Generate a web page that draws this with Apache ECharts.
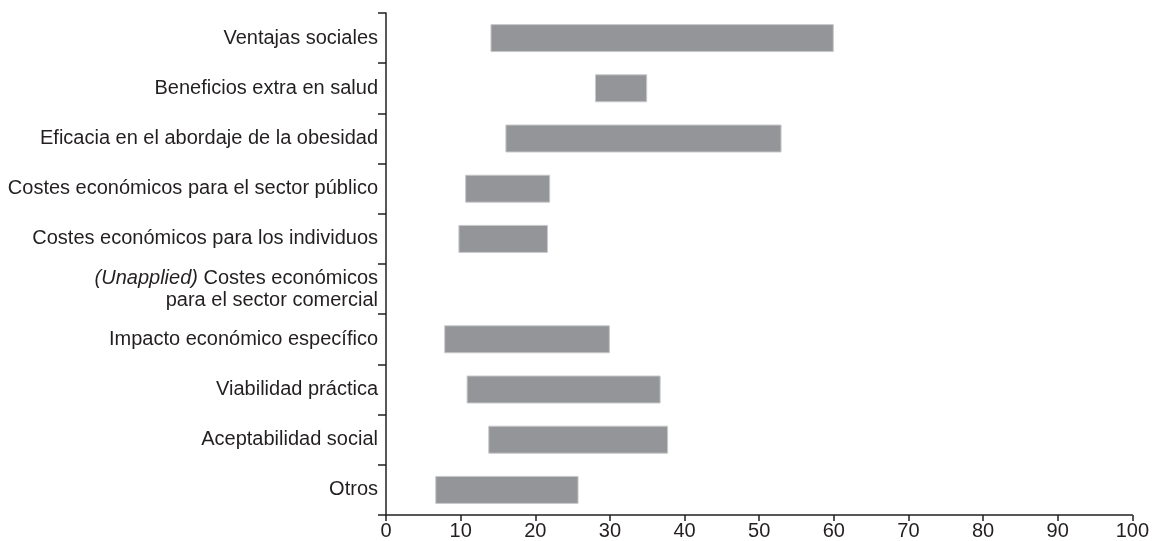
<!DOCTYPE html>
<html>
<head>
<meta charset="utf-8">
<script src="https://cdn.jsdelivr.net/npm/echarts@6/dist/echarts.min.js"></script>
<style>html,body{margin:0;padding:0;background:#fff}#c{width:1152px;height:541px}</style>
</head>
<body>
<div id="c"></div>
<script>
const categories = [
  'Ventajas sociales',
  'Beneficios extra en salud',
  'Eficacia en el abordaje de la obesidad',
  'Costes económicos para el sector público',
  'Costes económicos para los individuos',
  '(Unapplied) Costes económicos\npara el sector comercial',
  'Impacto económico específico',
  'Viabilidad práctica',
  'Aceptabilidad social',
  'Otros'
];
const rangeStart = [14, 28, 16, 10.6, 9.7, null, 7.8, 10.8, 13.7, 6.6];
const rangeEnd   = [60, 35, 53, 22.0, 21.7, null, 30, 36.8, 37.8, 25.8];
const xTicks = [0, 10, 20, 30, 40, 50, 60, 70, 80, 90, 100];

const spans = rangeStart.map((s, i) => (s == null || rangeEnd[i] == null) ? '-' : +(rangeEnd[i] - s).toFixed(2));
const bases = rangeStart.map(s => s == null ? '-' : s);

const chart = echarts.init(document.getElementById('c'), null, {renderer: 'canvas'});
chart.setOption({
  animation: false,
  backgroundColor: '#fff',
  grid: {left: 386, right: 18, top: 13, bottom: 26, containLabel: false},
  xAxis: {
    type: 'value', min: xTicks[0], max: xTicks[xTicks.length - 1], interval: 10,
    axisLine: {show: true, lineStyle: {color: '#231f20', width: 1.5}},
    axisTick: {show: true, length: 6, lineStyle: {color: '#231f20', width: 1.5}},
    splitLine: {show: false},
    axisLabel: {color: '#231f20', fontSize: 20, fontFamily: 'Liberation Sans, Arial, sans-serif', margin: 6}
  },
  yAxis: {
    type: 'category', data: categories, inverse: true,
    axisLine: {show: true, lineStyle: {color: '#231f20', width: 1.5}},
    axisTick: {show: true, length: 8, lineStyle: {color: '#231f20', width: 1.5}},
    axisLabel: {
      color: '#231f20', fontSize: 20, fontFamily: 'Liberation Sans, Arial, sans-serif', margin: 8,
      lineHeight: 22,
      formatter: function (v) {
        if (v.indexOf('(Unapplied)') === 0) {
          const rest = v.replace('(Unapplied)', '');
          return '{i|(Unapplied)}' + rest.split('\n')[0] + '\n' + rest.split('\n')[1];
        }
        return v;
      },
      rich: {i: {fontStyle: 'italic', fontSize: 20, lineHeight: 22, color: '#231f20', fontFamily: 'Liberation Sans, Arial, sans-serif'}}
    }
  },
  series: [
    {type: 'bar', stack: 'r', data: bases, barWidth: 28, itemStyle: {color: 'transparent'}, silent: true},
    {type: 'bar', stack: 'r', data: spans, barWidth: 28, itemStyle: {color: '#939598', borderColor: '#c8c9cb', borderWidth: 1}}
  ]
});
</script>
</body>
</html>
